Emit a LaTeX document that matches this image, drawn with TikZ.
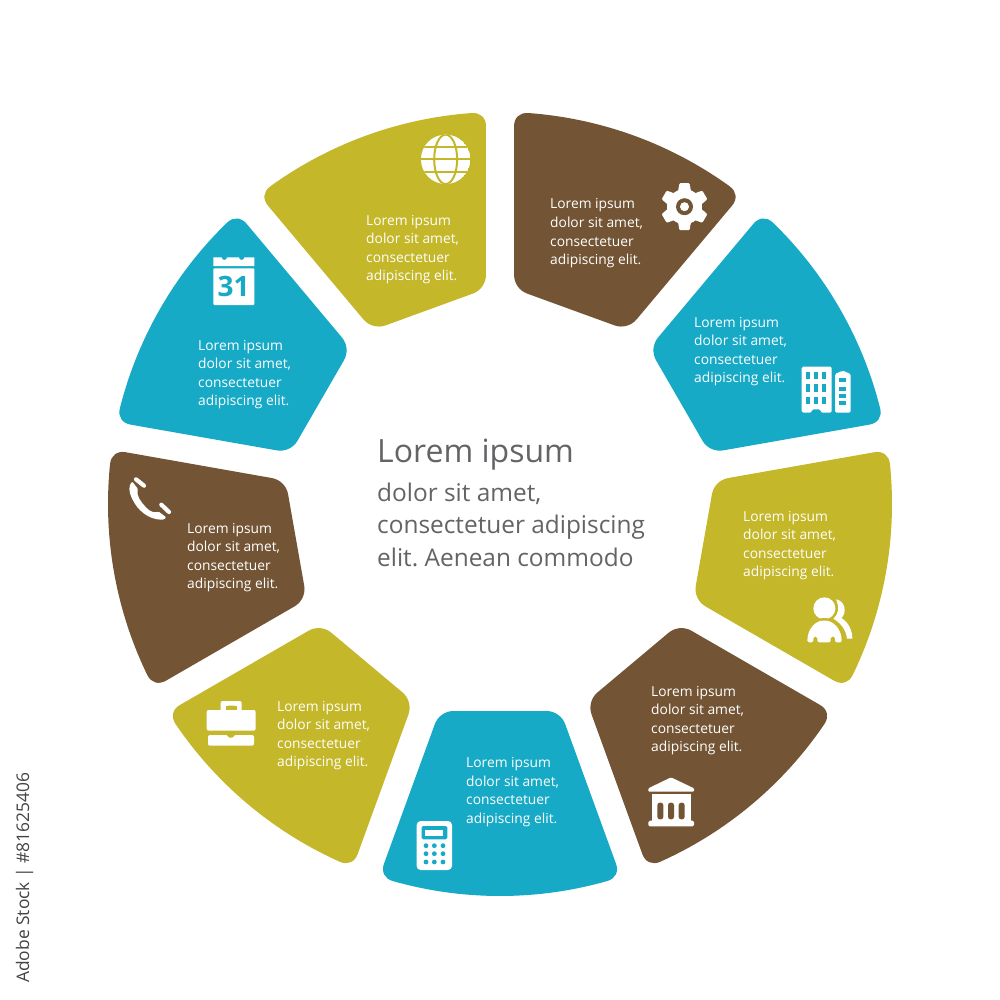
\documentclass[tikz,border=0pt]{standalone}
\usepackage{fontspec}
\setmainfont{Open Sans}
\frenchspacing
\definecolor{brownc}{HTML}{735536}
\definecolor{bluec}{HTML}{16AAC6}
\definecolor{olivec}{HTML}{C4B72A}
\definecolor{greyc}{HTML}{636466}
\definecolor{markc}{HTML}{444446}
\tikzset{
  bodytxt/.style={font=\fontsize{13.8}{18.5}\selectfont,text=white,align=left,anchor=base west,inner sep=0pt,yshift=-55.5pt},
  headtxt/.style={font=\fontsize{32}{36}\selectfont,text=greyc,anchor=base west,inner sep=0pt},
  subtxt/.style={font=\fontsize{24.4}{32.5}\selectfont,text=greyc,align=left,anchor=base west,inner sep=0pt,yshift=-65pt},
  marktxt/.style={font=\fontsize{17.4}{20}\selectfont,text=markc,rotate=90,anchor=base west,inner sep=0pt},
  zoomed/.style={x=0.33333pt,y=-0.33333pt},
}
\newcommand{\bodytext}{Lorem ipsum\\dolor sit amet,\\consectetuer\\adipiscing elit.}
\begin{document}
\begin{tikzpicture}[x=1pt,y=1pt]
\useasboundingbox (0,0) rectangle (1000,-1000);
\fill[white] (0,0) rectangle (1000,-1000);
% ring segments
\foreach \ang/\col in {20/brownc,60/bluec,100/olivec,140/brownc,180/bluec,220/olivec,260/brownc,300/bluec,340/olivec}{
  \begin{scope}[shift={(500,-504)},rotate=90-\ang]
    \fill[\col] (207,-46.4) -- (207,46.4) .. controls (207,54.8) and (212.3,62.3) .. (220.2,65.2)
      -- (359.7,116) .. controls (367.6,118.9) and (374.6,115.5) .. (15.9:392)
      arc[start angle=15.9,end angle=-15.9,radius=392]
      .. controls (374.6,-115.5) and (367.6,-118.9) .. (359.7,-116)
      -- (220.2,-65.2) .. controls (212.3,-62.3) and (207,-54.8) .. (207,-46.4) -- cycle;
  \end{scope}
}
% texts
\node[bodytxt] (t1) at (550,-209) {\bodytext};
\node[bodytxt] (t2) at (694,-327) {\bodytext};
\node[bodytxt] (t3) at (743,-521) {\bodytext};
\node[bodytxt] (t4) at (651,-696) {\bodytext};
\node[bodytxt] (t5) at (466,-767.5) {\bodytext};
\node[bodytxt] (t6) at (277,-711) {\bodytext};
\node[bodytxt] (t7) at (187,-533) {\bodytext};
\node[bodytxt] (t8) at (198,-350) {\bodytext};
\node[bodytxt] (t9) at (366,-225) {\bodytext};
\node[headtxt] (head) at (377,-462) {Lorem ipsum};
\node[subtxt] (sub) at (377,-501) {dolor sit amet,\\consectetuer adipiscing\\elit. Aenean commodo};
\node[marktxt] (mark) at (29,-983) {Adobe Stock | \#81625406};
% gear
\begin{scope}[shift={(684.5,-206.7)}]
  \fill[white] (0,0) circle[radius=17.5pt];
  \foreach \a in {30,90,...,330}{
    \fill[white,rotate=\a,rounded corners=1pt] (10,-7.5) -- (23.5,-5) -- (23.5,5) -- (10,7.5) -- cycle;
  }
  \fill[brownc] (0,0) circle[radius=8.5pt];
  \fill[white] (0,0) circle[radius=4.5pt];
\end{scope}
% buildings
\begin{scope}[shift={(500,-100)},zoomed]
  \fill[white,rounded corners=1.5pt] (905,938) -- (905,800) -- (995,800) -- (995,938) -- (962,938) -- (962,928) -- (935,928) -- (935,938) -- cycle;
  \fill[white,rounded corners=1.5pt] (1005,938) -- (1005,822) -- (1028,812) -- (1052,822) -- (1052,938) -- cycle;
  \foreach \xx in {918,942,966}\foreach \yy in {815,852,890}{
    \fill[bluec] (\xx,\yy) rectangle ++(13,23);
  }
  \foreach \yy in {835,860,882,904}{
    \fill[bluec] (1018,\yy) rectangle ++(20,12);
  }
\end{scope}
% people
\begin{scope}[shift={(800,-590)},zoomed]
  \fill[white] (108,28) .. controls (135,32) and (142,68) .. (124,84) .. controls (148,98) and (157,125) .. (157,146)
     -- (141,146) .. controls (138,118) and (122,100) .. (100,86) .. controls (116,72) and (118,50) .. (108,28) -- cycle;
  \fill[olivec] (73,55) circle[radius=13.5pt];
  \fill[white] (73,55) circle[radius=11pt];
  \fill[olivec] (14,160) .. controls (14,105) and (45,84) .. (73,84) .. controls (101,84) and (133,105) .. (133,160) -- cycle;
  \fill[white,rounded corners=1.5pt] (22,157) .. controls (22,115) and (48,92) .. (73,92) .. controls (98,92) and (125,115) .. (125,157) -- (105,157) -- (105,140) -- (92,140) -- (92,157) -- (52,157) -- (52,140) -- (40,140) -- (40,157) -- cycle;
\end{scope}
% bank
\begin{scope}[shift={(370,-620)},zoomed]
  \fill[white,rounded corners=1pt] (903,472) -- (972,505) -- (972,515) -- (835,515) -- (835,505) -- cycle;
  \fill[white] (845,522) rectangle (963,602);
  \fill[white,rounded corners=1.5pt] (835,602) rectangle (972,619);
  \foreach \xx in {862,894,926}{
    \fill[brownc,rounded corners=2.5pt] (\xx,598) -- (\xx,548) -- (\xx+18,548) -- (\xx+18,598) -- cycle;
  }
\end{scope}
% calculator
\begin{scope}[shift={(370,-620)},zoomed]
  \fill[white,rounded corners=4pt] (140,603) rectangle (246,750);
  \fill[bluec,rounded corners=1.5pt] (155,618) rectangle (232,658);
  \fill[white] (165,630) rectangle (220,648);
  \foreach \xx in {168,193,219}\foreach \yy in {677,701,726}{
    \fill[bluec] (\xx,\yy) circle[radius=2.4pt];
  }
\end{scope}
% briefcase
\begin{scope}[shift={(100,-440)},zoomed]
  \fill[white,rounded corners=2pt] (362,815) -- (362,783) -- (425,783) -- (425,815) -- (410,815) -- (410,797) -- (378,797) -- (378,815) -- cycle;
  \fill[white,rounded corners=2pt] (320,810) rectangle (467,872);
  \fill[olivec] (378,797) rectangle (410,809);
  \fill[white,rounded corners=2pt] (324,885) -- (383,885) -- (383,893) -- (402,893) -- (402,885) -- (462,885) -- (462,917) -- (324,917) -- cycle;
\end{scope}
% phone
\begin{scope}[shift={(120,-470)},zoomed]
  \draw[white,line width=4.2pt,line cap=round] (48,28) -- (72,47);
  \draw[white,line width=4.2pt,line cap=round] (124,104) -- (147,126);
  \fill[white,rounded corners=1pt] (37,35) .. controls (26,45) and (26,65) .. (36,85) .. controls (52,120) and (85,148) .. (125,149) .. controls (134,149) and (139,143) .. (135,139)
     -- (116,125) .. controls (105,128) and (92,127) .. (78,112) .. controls (62,95) and (48,75) .. (54,57) -- cycle;
\end{scope}
% calendar
\begin{scope}[shift={(205,-250)},zoomed]
  \fill[white] (25,48) -- (25,22) -- (50,22) arc[start angle=180,end angle=360,radius=2.67pt] -- (102,22) arc[start angle=180,end angle=360,radius=2.67pt] -- (148,22) -- (148,48) -- cycle;
  \fill[white,rounded corners=1pt] (25,55) rectangle (148,165);
  \node[font=\bfseries\fontsize{28}{30}\selectfont,text=bluec,inner sep=0pt] (cal) at (86,110) {31};
\end{scope}
% globe
\begin{scope}[shift={(415,-130)},zoomed]
  \begin{scope}
    \clip (92,88) circle[radius=24.7pt];
    \fill[white] (92,88) circle[radius=24.7pt];
    \draw[olivec,line width=2pt] (92,88) ellipse[x radius=11.5pt,y radius=24.7pt];
    \draw[olivec,line width=2pt] (15,88) -- (169,88);
    \draw[olivec,line width=2pt] (15,50) -- (169,50);
    \draw[olivec,line width=2pt] (15,126) -- (169,126);
  \end{scope}
\end{scope}
\end{tikzpicture}
\end{document}
